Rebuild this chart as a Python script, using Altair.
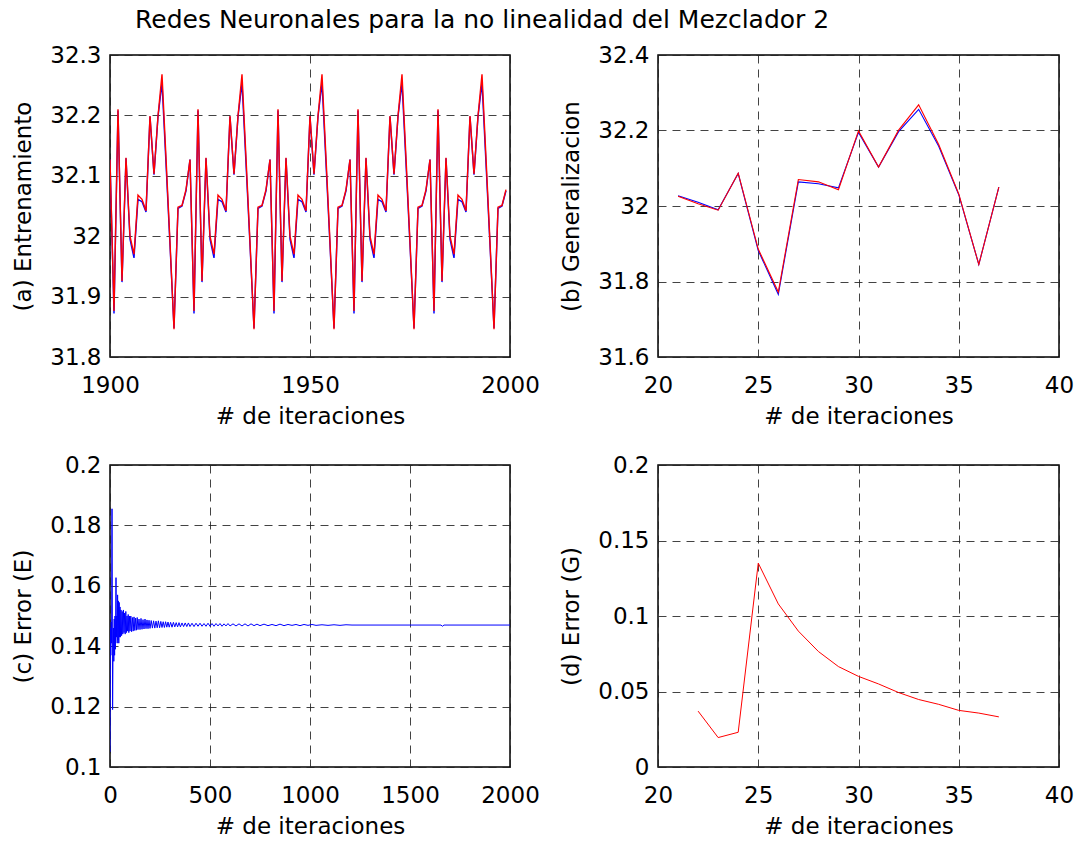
import altair as alt
import pandas as pd

FONT = "DejaVu Sans"
TITLE = "Redes Neuronales para la no linealidad del Mezclador 2"
XTITLE = "# de iteraciones"

# ---------- (a) Entrenamiento: one 20-iteration cycle, repeated over 1900-1999
a_cycle_blue = [32.127, 31.872, 32.208, 31.924, 32.129, 31.995, 31.964, 32.061, 32.057, 32.040,
                32.198, 32.102, 32.198, 32.254, 32.120, 31.985, 31.848, 32.046, 32.050, 32.075]
a_cycle_red = [32.127, 31.876, 32.210, 31.926, 32.130, 32.000, 31.970, 32.068, 32.061, 32.042,
               32.199, 32.103, 32.199, 32.268, 32.130, 31.990, 31.846, 32.048, 32.051, 32.077]
a_start, a_end = 1900, 1999
a_xticks = [1900, 1950, 2000]
a_yticks = [31.8, 31.9, 32.0, 32.1, 32.2, 32.3]

# ---------- (b) Generalizacion
b_iter = [21, 22, 23, 24, 25, 26, 27, 28, 29, 30, 31, 32, 33, 34, 35, 36, 37]
b_blue = [32.027, 32.010, 31.990, 32.086, 31.882, 31.766, 32.064, 32.059, 32.048, 32.195,
          32.103, 32.197, 32.256, 32.158, 32.030, 31.845, 32.050]
b_red = [32.026, 32.006, 31.989, 32.087, 31.886, 31.772, 32.070, 32.064, 32.043, 32.199,
         32.103, 32.201, 32.268, 32.163, 32.032, 31.845, 32.050]
b_xticks = [20, 25, 30, 35, 40]
b_yticks = [31.6, 31.8, 32.0, 32.2, 32.4]

# ---------- (c) Error (E)
c_iter = [0, 2, 4, 6, 8, 10, 13, 15, 17, 19, 21, 23, 25, 27, 30, 32, 34, 36, 38, 40,
          42, 44, 46, 48, 50, 52, 55, 58, 61, 64, 67, 70, 73, 76, 79, 82, 85, 88, 91, 94,
          97, 100, 104, 108, 112, 116, 120, 124, 128, 132, 136, 140, 145, 150, 155, 160, 165, 170, 175, 180,
          185, 190, 195, 200, 206, 212, 218, 224, 230, 236, 242, 248, 254, 260, 266, 272, 278, 284, 290, 296,
          303, 310, 317, 324, 331, 338, 345, 352, 360, 368, 376, 384, 392, 400, 410, 420, 430, 440, 450, 460,
          470, 480, 490, 500, 510, 520, 530, 540, 550, 560, 570, 580, 590, 600, 615, 630, 645, 660, 675, 690,
          705, 720, 735, 750, 770, 790, 810, 830, 850, 870, 890, 910, 930, 950, 970, 990, 1010, 1030, 1060, 1090,
          1120, 1150, 1180, 1210, 1300, 1400, 1500, 1655, 1662, 1670, 1800, 2000]
c_val = [0.1050, 0.1460, 0.1370, 0.1480, 0.1410, 0.1855, 0.1190, 0.1380, 0.1460, 0.1350,
         0.1490, 0.1370, 0.1500, 0.1390, 0.1627, 0.1430, 0.1500, 0.1410, 0.1570, 0.1420,
         0.1550, 0.1410, 0.1545, 0.1430, 0.1530, 0.1430, 0.1520, 0.1435, 0.1515, 0.1440,
         0.1520, 0.1445, 0.1510, 0.1440, 0.1515, 0.1445, 0.1500, 0.1450, 0.1505, 0.1445,
         0.1500, 0.1450, 0.1500, 0.1448, 0.1495, 0.1450, 0.1497, 0.1452, 0.1493, 0.1453,
         0.1495, 0.1455, 0.1490, 0.1455, 0.1492, 0.1456, 0.1488, 0.1457, 0.1490, 0.1458,
         0.1487, 0.1458, 0.1486, 0.1459, 0.1485, 0.1460, 0.1484, 0.1460, 0.1483, 0.1461,
         0.1484, 0.1461, 0.1482, 0.1462, 0.1481, 0.1462, 0.1481, 0.1463, 0.1480, 0.1463,
         0.1479, 0.1463, 0.1479, 0.1464, 0.1478, 0.1464, 0.1478, 0.1464, 0.1477, 0.1465,
         0.1477, 0.1465, 0.1477, 0.1465, 0.1476, 0.1465, 0.1476, 0.1466, 0.1476, 0.1466,
         0.1475, 0.1466, 0.1476, 0.1466, 0.1475, 0.1466, 0.1475, 0.1467, 0.1475, 0.1466,
         0.1474, 0.1467, 0.1475, 0.1467, 0.1474, 0.1467, 0.1474, 0.1467, 0.1474, 0.1467,
         0.1474, 0.1468, 0.1473, 0.1468, 0.1473, 0.1468, 0.1472, 0.1468, 0.1473, 0.1468,
         0.1472, 0.1469, 0.1472, 0.1468, 0.1472, 0.1469, 0.1472, 0.1469, 0.1471, 0.1469,
         0.1471, 0.1469, 0.1471, 0.1470, 0.1470, 0.1470, 0.1470, 0.1470, 0.1466, 0.1470,
         0.1470, 0.1470]
c_xticks = [0, 500, 1000, 1500, 2000]
c_yticks = [0.10, 0.12, 0.14, 0.16, 0.18, 0.20]

# ---------- (d) Error (G)
d_iter = [22, 23, 24, 25, 26, 27, 28, 29, 30, 31, 32, 33, 34, 35, 36, 37]
d_val = [0.0370, 0.0195, 0.0230, 0.1350, 0.1080, 0.0900, 0.0765, 0.0665, 0.0600, 0.0550,
         0.0493, 0.0447, 0.0415, 0.0375, 0.0357, 0.0332]
d_xticks = [20, 25, 30, 35, 40]
d_yticks = [0.0, 0.05, 0.10, 0.15, 0.20]

BLUE = "#0000ff"
RED = "#ff0000"


def line_layer(df, color, xdom, ydom, xticks, yticks, ytitle, sw=1.0):
    xaxis = alt.Axis(values=xticks, format=".4~g", title=XTITLE)
    yaxis = alt.Axis(values=yticks, format=".4~g", title=ytitle)
    return alt.Chart(df).mark_line(color=color, strokeWidth=sw, clip=True).encode(
        x=alt.X("x:Q", scale=alt.Scale(domain=xdom, nice=False, zero=False), axis=xaxis),
        y=alt.Y("y:Q", scale=alt.Scale(domain=ydom, nice=False, zero=False), axis=yaxis),
    )


a_x = list(range(a_start, a_end + 1))
a_blue_df = pd.DataFrame({"x": a_x, "y": [a_cycle_blue[(v - a_start) % 20] for v in a_x]})
a_red_df = pd.DataFrame({"x": a_x, "y": [a_cycle_red[(v - a_start) % 20] for v in a_x]})
b_blue_df = pd.DataFrame({"x": b_iter, "y": b_blue})
b_red_df = pd.DataFrame({"x": b_iter, "y": b_red})
c_df = pd.DataFrame({"x": c_iter, "y": c_val})
d_df = pd.DataFrame({"x": d_iter, "y": d_val})

W_L, W_R, H = 400, 401, 302

pa = alt.layer(
    line_layer(a_blue_df, BLUE, [1900, 2000], [31.8, 32.3], a_xticks, a_yticks, "(a) Entrenamiento", 1.4),
    line_layer(a_red_df, RED, [1900, 2000], [31.8, 32.3], a_xticks, a_yticks, "(a) Entrenamiento", 1.4),
).properties(width=W_L, height=H)

pb = alt.layer(
    line_layer(b_blue_df, BLUE, [20, 40], [31.6, 32.4], b_xticks, b_yticks, "(b) Generalizacion", 1.1),
    line_layer(b_red_df, RED, [20, 40], [31.6, 32.4], b_xticks, b_yticks, "(b) Generalizacion", 1.1),
).properties(width=W_R, height=H)

pc = line_layer(c_df, BLUE, [0, 2000], [0.1, 0.2], c_xticks, c_yticks, "(c) Error (E)").properties(
    width=W_L, height=H)

pd_ = line_layer(d_df, RED, [20, 40], [0.0, 0.2], d_xticks, d_yticks, "(d) Error (G)").properties(
    width=W_R, height=H)

top = alt.hconcat(pa, pb, spacing=19)
bottom = alt.hconcat(pc, pd_, spacing=19)

chart = alt.vconcat(top, bottom, spacing=24).properties(
    title=alt.TitleParams(TITLE, anchor="start", offset=10, dx=123),
    padding={"left": 12, "top": 8, "right": 0, "bottom": 0},
).configure_axis(
    labelFont=FONT, labelFontSize=23, labelColor="black",
    titleFont=FONT, titleFontSize=23, titleFontWeight="normal", titleColor="black",
    grid=True, gridColor="#222222", gridDash=[8, 6], gridWidth=1, gridOpacity=0.85,
    ticks=False, domain=False, labelFlush=False, labelOverlap=False, labelBound=False,
).configure_axisX(
    labelPadding=17, titlePadding=8,
).configure_axisY(
    labelPadding=9, titlePadding=14,
).configure_view(
    stroke="black", strokeWidth=1.5,
).configure_title(
    font=FONT, fontSize=25, fontWeight="normal", color="black",
)

chart.save("out.html", embed_options={"renderer": "svg", "actions": False})
